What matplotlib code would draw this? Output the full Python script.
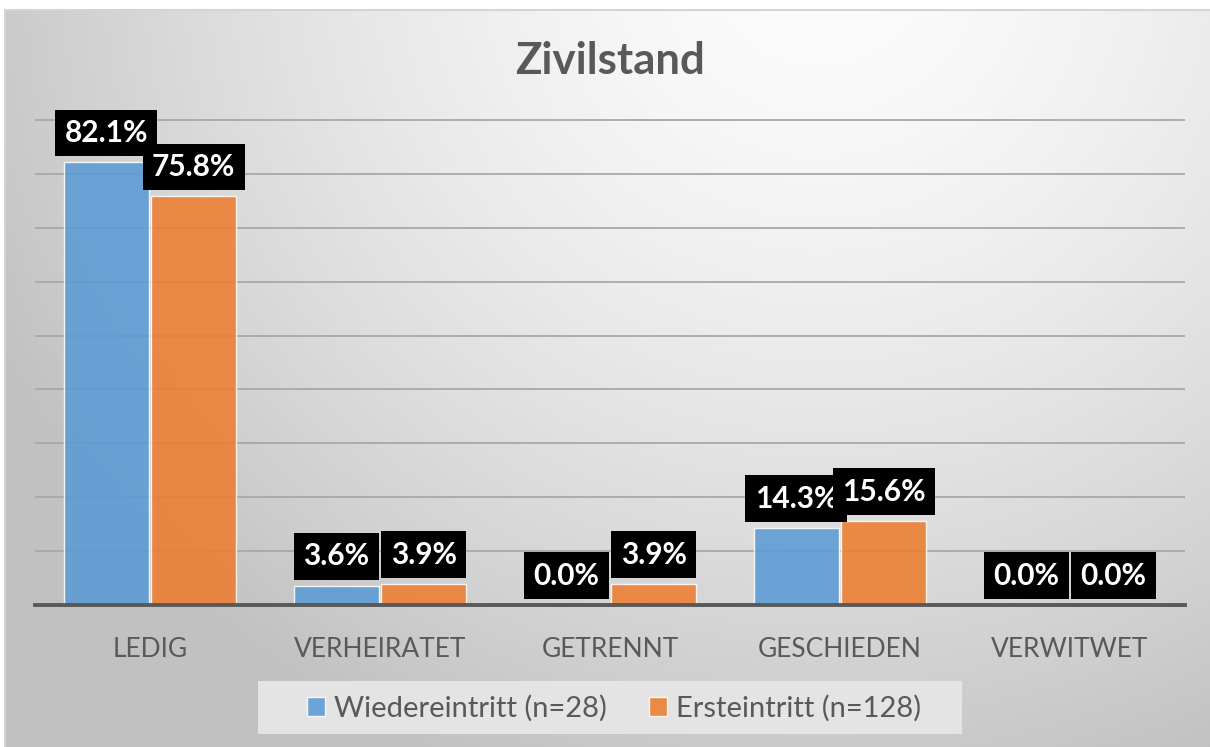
import numpy as np
import matplotlib
matplotlib.use("Agg")
import matplotlib.pyplot as plt
from matplotlib.patches import Rectangle, Patch

# ---- data ----
categories = ["LEDIG", "VERHEIRATET", "GETRENNT", "GESCHIEDEN", "VERWITWET"]
series_names = ["Wiedereintritt (n=28)", "Ersteintritt (n=128)"]
wiedereintritt = [82.1, 3.6, 0.0, 14.3, 0.0]
ersteintritt = [75.8, 3.9, 3.9, 15.6, 0.0]
title = "Zivilstand"

W, H = 1210, 747
plt.rcParams['font.family'] = ['Lato', 'DejaVu Sans']
fig = plt.figure(figsize=(W / 100, H / 100), dpi=100)
fig.patch.set_facecolor('white')

# ---- background gradient ----
bg = fig.add_axes([5 / W, 0, 1 - 5 / W, 1 - 10 / H], zorder=-10)
xs = np.linspace(5, W, 400)
ys = np.linspace(10, H, 250)
X, Y = np.meshgrid(xs, ys)
d = np.sqrt(((X - 820) / 860) ** 2 + ((Y + 40) / 820) ** 2)
c = np.clip(0.99 - 0.21 * d ** 1.5, 0.76, 1.0)
img = np.dstack([c, c, c])
bg.imshow(img, aspect='auto', extent=[0, 1, 0, 1], origin='upper', interpolation='bilinear')
bg.set_xlim(0, 1)
bg.set_ylim(0, 1)
bg.axis('off')
bg.plot([0, 0], [0, 1], color='#d4d4d4', lw=1.5, transform=bg.transAxes, clip_on=False)
bg.plot([0, 1], [1, 1], color='#d4d4d4', lw=1.5, transform=bg.transAxes, clip_on=False)

# ---- main axes ----
left, right = 35 / W, 1185 / W
bottom, top = 1 - 605 / H, 1 - 110 / H
ax = fig.add_axes([left, bottom, right - left, top - bottom])
ax.patch.set_alpha(0)
ymax = (605 - 110) / 5.39
ax.set_ylim(0, ymax)
ax.set_xlim(-0.5, len(categories) - 0.5)

x = np.arange(len(categories))
bw = 0.37
off = 0.19
blue = '#5B9BD5'
orange = '#ED7D31'
b1 = ax.bar(x - off, wiedereintritt, bw, color=blue, alpha=0.88, edgecolor=(1, 1, 1, 0.45), lw=1, zorder=3)
b2 = ax.bar(x + off, ersteintritt, bw, color=orange, alpha=0.88, edgecolor=(1, 1, 1, 0.45), lw=1, zorder=3)

ax.set_yticks(np.arange(10, 91, 10))
ax.yaxis.grid(True, color='#a8a8a8', lw=1.3, zorder=1)
ax.set_yticklabels([])
ax.tick_params(axis='y', length=0)
ax.set_xticks(x)
ax.set_xticklabels(categories, fontsize=19, color='#595959')
ax.tick_params(axis='x', length=0, pad=23)
for s in ['top', 'right', 'left']:
    ax.spines[s].set_visible(False)
ax.spines['bottom'].set_color('#595959')
ax.spines['bottom'].set_linewidth(2.8)
ax.spines['bottom'].set_zorder(5)

# ---- value labels ----
fs = 21.5
pad = 0.31
offset_pt = (6 + pad * fs / 0.72) * 0.72
for xs_, vals in [(x - off, wiedereintritt), (x + off, ersteintritt)]:
    for xi, v in zip(xs_, vals):
        ax.annotate(f"{v:.1f}%", xy=(xi, v), xytext=(0, offset_pt), textcoords='offset points',
                    ha='center', va='bottom', fontsize=fs, fontweight='bold', color='white',
                    bbox=dict(boxstyle=f'square,pad={pad}', fc='black', ec='none'), zorder=6)

# ---- title ----
fig.text(610 / W, 1 - 61 / H, title, ha='center', va='center', fontsize=31.5, fontweight='bold', color='#595959')

# ---- legend ----
fig.patches.append(Rectangle((258 / W, 1 - 734 / H), (962 - 258) / W, (734 - 681) / H,
                             transform=fig.transFigure, fc='#e4e4e4', ec='none', zorder=0))
handles = [Patch(facecolor=blue, alpha=0.88, edgecolor=(1, 1, 1, 0.6)),
           Patch(facecolor=orange, alpha=0.88, edgecolor=(1, 1, 1, 0.6))]
leg = fig.legend(handles, series_names, loc='center', bbox_to_anchor=(614 / W, 1 - 708 / H), ncol=2,
                 frameon=False, fontsize=21, handlelength=0.62, handleheight=0.62, handletextpad=0.3,
                 columnspacing=1.45, labelcolor='#595959')

fig.savefig('out.png', dpi=100)
